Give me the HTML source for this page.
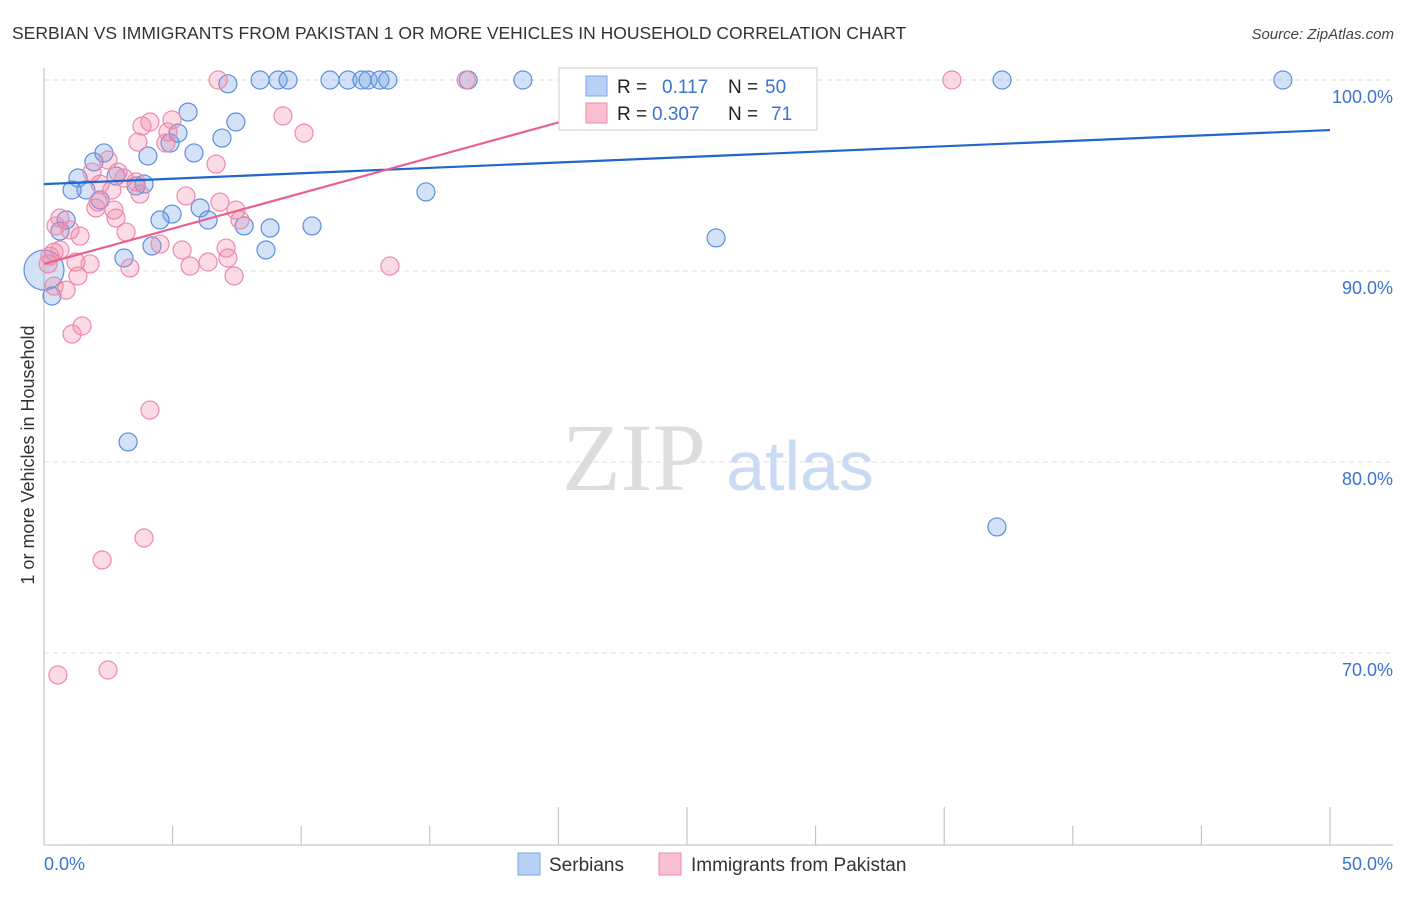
<!DOCTYPE html>
<html><head><meta charset="utf-8"><style>
body{margin:0;background:#fff;font-family:"Liberation Sans",sans-serif}
</style></head><body>
<svg id="chart" width="1406" height="892" xmlns="http://www.w3.org/2000/svg" font-family="Liberation Sans, sans-serif">
<text x="12" y="39" font-size="17.5" fill="#333">SERBIAN VS IMMIGRANTS FROM PAKISTAN 1 OR MORE VEHICLES IN HOUSEHOLD CORRELATION CHART</text>
<text x="1394" y="39" font-size="15" fill="#444" font-style="italic" text-anchor="end">Source: ZipAtlas.com</text>
<g>
<text x="634" y="490" font-size="96" font-family="Liberation Serif, serif" fill="#ddd" text-anchor="middle">ZIP</text>
<text x="800" y="490" font-size="70" fill="#c9daf2" text-anchor="middle">atlas</text>
</g>
<text transform="translate(34,455) rotate(-90)" font-size="18" fill="#333" text-anchor="middle">1 or more Vehicles in Household</text>
<g id="grid"></g><g id="axes"></g><g id="pts"></g><g id="lines"></g>
<g>
<rect x="559" y="68" width="258" height="62" fill="#fff" stroke="#ccc"/>
<rect x="586" y="76" width="21" height="20" fill="#b8d0f4" stroke="#7aa6e6"/>
<rect x="586" y="103" width="21" height="20" fill="#f8bfd0" stroke="#ef8aa9"/>
<text x="617" y="93" font-size="19" fill="#222">R = </text><text x="662" y="93" font-size="19" fill="#3a74d0">0.117</text>
<text x="728" y="93" font-size="19" fill="#222">N = </text><text x="765" y="93" font-size="19" fill="#3a74d0">50</text>
<text x="617" y="120" font-size="19" fill="#222">R = </text><text x="652" y="120" font-size="19" fill="#3a74d0">0.307</text>
<text x="728" y="120" font-size="19" fill="#222">N = </text><text x="771" y="120" font-size="19" fill="#3a74d0">71</text>
</g>
<g>
<rect x="518" y="853" width="22" height="22" fill="#b8d0f4" stroke="#7aa6e6"/>
<text x="549" y="871" font-size="19" fill="#333">Serbians</text>
<rect x="659" y="853" width="22" height="22" fill="#f8bfd0" stroke="#ef8aa9"/>
<text x="691" y="871" font-size="19" fill="#333">Immigrants from Pakistan</text>
</g>
</svg>
<script>
const blueX=[7.15,8.4,9.1,9.49,11.12,11.82,12.36,12.6,13.06,13.37,16.49,18.62,20.61,37.25,48.17,5.6,7.46,6.92,4.9,5.21,4.04,2.33,5.83,1.94,1.32,2.8,3.89,3.58,1.63,1.09,2.18,14.85,6.07,4.98,4.51,6.38,7.78,8.79,10.42,0.86,0.62,4.2,3.11,8.63,26.13,0.31,0,3.27,37.05];
const blueY=[99.8,100,100,100,100,100,100,100,100,100,100,100,100,100,100,98.32,97.8,96.96,96.7,97.22,96.02,96.18,96.18,95.71,94.87,94.97,94.55,94.45,94.24,94.24,93.72,94.14,93.3,92.98,92.67,92.67,92.36,92.25,92.36,92.67,92.09,91.31,90.68,91.1,91.73,88.69,90.05,81.05,76.6];
const pinkX=[6.77,16.41,35.3,9.29,10.11,4.12,3.81,4.98,3.65,4.82,4.74,2.49,1.87,2.88,3.11,2.18,3.58,2.64,2.1,2.02,3.73,5.52,6.84,7.46,2.72,7.62,2.8,0.62,0.47,1.01,1.4,3.19,4.51,5.37,7.08,6.69,0.39,0.23,0.16,0.62,1.24,1.79,6.38,5.68,3.34,7.15,7.39,1.32,0.86,0.39,13.45,1.48,1.09,4.12,3.89,2.26,2.49,0.54];
const pinkY=[100,100,100,98.12,97.22,97.8,97.59,97.91,96.75,97.28,96.7,95.81,95.18,95.18,94.87,94.55,94.66,94.24,93.61,93.3,94.03,93.93,93.61,93.19,93.19,92.67,92.77,92.77,92.36,92.15,91.83,92.04,91.41,91.1,91.2,95.6,90.99,90.78,90.37,91.1,90.47,90.37,90.47,90.26,90.16,90.68,89.74,89.74,89,89.21,90.26,87.12,86.7,82.72,76.02,74.87,69.11,68.85];
const yTicks=[100,90,80,70];
const yTickLabels=["100.0%","90.0%","80.0%","70.0%"];
const xTicks=[0,5,10,15,20,25,30,35,40,45,50];
const blueTrend=[[0,94.55],[50,97.38]];
const pinkTrend=[[0,90.37],[26,100]];
const NS="http://www.w3.org/2000/svg";
const sx=v=>44+v/50*1286, sy=v=>80+(100-v)*19.1;
function mk(tag,attrs,parent){const e=document.createElementNS(NS,tag);for(const k in attrs)e.setAttribute(k,attrs[k]);parent.appendChild(e);return e;}
const grid=document.getElementById('grid'),axes=document.getElementById('axes'),pts=document.getElementById('pts'),lines=document.getElementById('lines');
yTicks.forEach((t,i)=>{
 const l=mk('line',{x1:44,x2:1393,y1:sy(t),y2:sy(t),stroke:'#ddd','stroke-dasharray':'5,4'},grid);
 
 
 const tx=mk('text',{x:1393,y:sy(t)+23,'font-size':18,fill:'#3a74d0','text-anchor':'end'},axes);
 tx.textContent=yTickLabels[i];
 
 
});
const ax=mk('line',{x1:44,x2:1393,y1:845,y2:845,stroke:'#bbb'},axes);


const ay=mk('line',{x1:44,x2:44,y1:68,y2:845,stroke:'#bbb'},axes);


xTicks.forEach((t,i)=>{
 const long=[20,25,35,50].includes(t);
 const tk=mk('line',{x1:sx(t),x2:sx(t),y1:long?807:826,y2:845,stroke:'#bbb'},axes);
 
 
});
[[0,'start'],[50,'end']].forEach(([t,a])=>{
 const tx=mk('text',{x:t===0?44:1393,y:870,'font-size':18,fill:'#3a74d0','text-anchor':a},axes);
 tx.textContent=t.toFixed(1)+'%';
 
 
});
blueX.forEach((x,i)=>{
 const c=mk('circle',{cx:sx(x),cy:sy(blueY[i]),r:(x===0?20:9),fill:'rgba(110,160,230,0.3)',stroke:'#5b8fde','stroke-width':1.2},pts);
 
 
});
pinkX.forEach((x,i)=>{
 const c=mk('circle',{cx:sx(x),cy:sy(pinkY[i]),r:9,fill:'rgba(240,130,165,0.28)',stroke:'#ef8aa9','stroke-width':1.2},pts);
 
 
});
const bl=mk('line',{x1:sx(blueTrend[0][0]),y1:sy(blueTrend[0][1]),x2:sx(blueTrend[1][0]),y2:sy(blueTrend[1][1]),stroke:'#2266cc','stroke-width':2.2},lines);


const pl=mk('line',{x1:sx(pinkTrend[0][0]),y1:sy(pinkTrend[0][1]),x2:sx(pinkTrend[1][0]),y2:sy(pinkTrend[1][1]),stroke:'#e8628f','stroke-width':2.2},lines);


</script>
</body></html>
